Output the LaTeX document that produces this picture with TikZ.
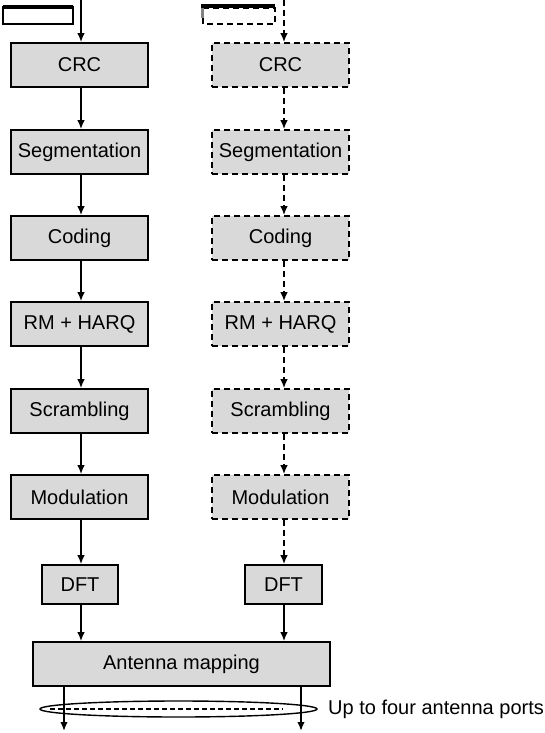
\documentclass[tikz,border=0pt]{standalone}
\usepackage{fontspec}
\setmainfont{Liberation Sans}
\usetikzlibrary{arrows.meta,positioning,calc,shapes.geometric}
\definecolor{boxgray}{RGB}{217,217,217}
\tikzset{
 txt/.style={font=\fontsize{20}{23}\selectfont},
 blk/.style={draw, line width=1.7pt, fill=boxgray, minimum width=137pt, minimum height=44pt, inner sep=0pt, txt},
 dblk/.style={blk, dash pattern=on 6pt off 4pt},
 flow/.style={line width=1.6pt, -{Latex[length=9pt,width=7.5pt]}},
 dflow/.style={flow, dash pattern=on 6pt off 4pt},
}
\begin{document}
\begin{tikzpicture}[x=1pt,y=-1pt]
\useasboundingbox (0,0) rectangle (545,733);
% top transport-block boxes
\draw[line width=1.7pt, fill=white] (3,7) rectangle (73,24);
\draw[line width=4pt] (3,7) -- (73,7);
\draw[line width=1.7pt, fill=white, dash pattern=on 6pt off 4pt] (203,8) rectangle (275,24);
\draw[line width=4pt] (201,6) -- (275,6);
\draw[line width=3pt, boxgray!60!black] (202,8) -- (202,18);
\coordinate (lt) at (81,0);
\coordinate (rt) at (284,0);
% left chain
\node[blk] (l1) at (79.5,65) {CRC};
\node[blk] (l2) at (79.5,152) {Segmentation};
\node[blk] (l3) at (79.5,238) {Coding};
\node[blk] (l4) at (79.5,324) {RM + HARQ};
\node[blk] (l5) at (79.5,411) {Scrambling};
\node[blk] (l6) at (79.5,497) {Modulation};
\node[blk, minimum width=76pt, minimum height=39pt] (ld) at (80,584.5) {DFT};
% right chain
\node[dblk] (r1) at (280.5,65) {CRC};
\node[dblk] (r2) at (280.5,152) {Segmentation};
\node[dblk] (r3) at (280.5,238) {Coding};
\node[dblk] (r4) at (280.5,324) {RM + HARQ};
\node[dblk] (r5) at (280.5,411) {Scrambling};
\node[dblk] (r6) at (280.5,497) {Modulation};
\node[blk, minimum width=77pt, minimum height=39pt] (rd) at (283.5,584.5) {DFT};
% antenna mapping
\node[blk, minimum width=297pt] (am) at (181.5,664) {Antenna mapping};
% left arrows
\draw[flow] (lt) -- (lt |- l1.north);
\foreach \a/\b in {l1/l2,l2/l3,l3/l4,l4/l5,l5/l6,l6/ld}
  \draw[flow] (lt |- \a.south) -- (lt |- \b.north);
\draw[flow] (lt |- ld.south) -- (lt |- am.north);
% right arrows
\draw[dflow] (rt) -- (rt |- r1.north);
\foreach \a/\b in {r1/r2,r2/r3,r3/r4,r4/r5,r5/r6}
  \draw[dflow] (rt |- \a.south) -- (rt |- \b.north);
\draw[dflow] (rt |- r6.south) -- (rt |- rd.north);
\draw[flow] (rt |- rd.south) -- (rt |- am.north);
% antenna ports
\node[draw, ellipse, line width=1.4pt, minimum width=277pt, minimum height=16pt, inner sep=0pt] (ell) at (178.5,709) {};
\draw[line width=1.5pt, dash pattern=on 5pt off 3pt] (50,709) -- (283,709);
\coordinate (o1) at (64,731);
\coordinate (o2) at (301,731);
\draw[flow] (am.south -| o1) -- (o1);
\draw[flow] (am.south -| o2) -- (o2);
\node[anchor=west, inner sep=0pt, txt] (lab) at (328,709) {Up to four antenna ports};
\end{tikzpicture}
\end{document}
